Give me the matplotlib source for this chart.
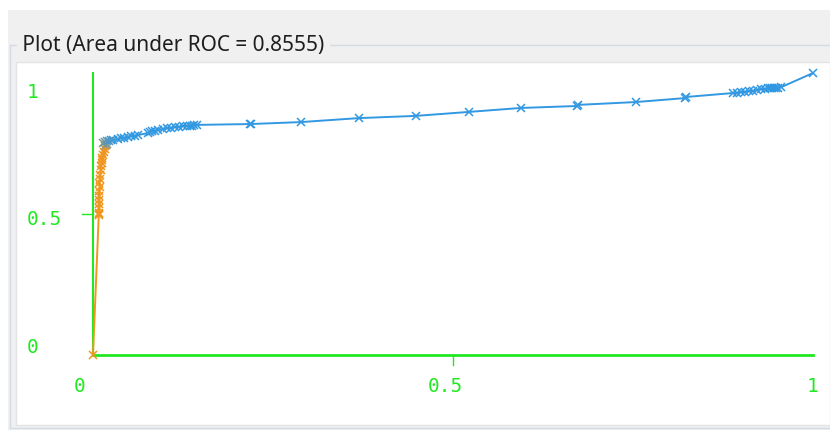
import matplotlib
matplotlib.use("Agg")
import matplotlib.pyplot as plt
from matplotlib.colors import LinearSegmentedColormap, to_hex
from matplotlib.patches import Rectangle
from matplotlib.lines import Line2D
import numpy as np

W, H = 830, 430

title = "Plot (Area under ROC = 0.8555)"

# ROC curve points (false positive rate, true positive rate)
fpr = [0.0, 0.008, 0.009, 0.008,
       0.008, 0.009, 0.008, 0.009, 0.009, 0.010, 0.009, 0.010, 0.010, 0.011, 0.011,
       0.012, 0.013, 0.013, 0.014, 0.015, 0.016, 0.017, 0.018, 0.019,
       0.0139, 0.0167, 0.0194, 0.022, 0.025, 0.028, 0.035, 0.039, 0.043, 0.049,
       0.053, 0.058, 0.0625, 0.076, 0.079, 0.082, 0.086, 0.090, 0.097, 0.103,
       0.108, 0.114, 0.119, 0.125, 0.131, 0.135, 0.1375, 0.140, 0.144,
       0.218, 0.219, 0.289, 0.369, 0.449, 0.522, 0.594, 0.672, 0.674, 0.754,
       0.822, 0.824, 0.889, 0.894, 0.900, 0.906, 0.911, 0.917, 0.922, 0.928,
       0.933, 0.9375, 0.940, 0.943, 0.946, 0.949, 0.951, 0.956, 1.0]
tpr = [0.0, 0.495, 0.500, 0.505,
       0.520, 0.535, 0.550, 0.565, 0.580, 0.595, 0.610, 0.625, 0.640, 0.655, 0.670,
       0.680, 0.690, 0.700, 0.710, 0.720, 0.730, 0.740, 0.745, 0.750,
       0.752, 0.755, 0.759, 0.759, 0.762, 0.762, 0.766, 0.770, 0.770, 0.773,
       0.777, 0.777, 0.780, 0.787, 0.791, 0.794, 0.794, 0.798, 0.801, 0.805,
       0.805, 0.809, 0.809, 0.812, 0.812, 0.812, 0.812, 0.816, 0.816,
       0.819, 0.819, 0.826, 0.840, 0.848, 0.862, 0.876, 0.883, 0.887, 0.897,
       0.911, 0.915, 0.929, 0.929, 0.933, 0.933, 0.936, 0.936, 0.940, 0.943,
       0.943, 0.947, 0.947, 0.947, 0.947, 0.947, 0.947, 0.950, 1.0]

xtick_labels = ["0", "0.5", "1"]
ytick_labels = ["0", "0.5", "1"]

GREEN = "#22e822"
cmap = LinearSegmentedColormap.from_list("thr", ["#f0961e", "#f0961e", "#3298e2"])


def fx(px):
    return px / W


def fy(py):
    return 1 - py / H


fig = plt.figure(figsize=(W / 100, H / 100), dpi=100)
fig.patch.set_facecolor("white")

# window chrome: grey panel, group box and white plotting area
fig.add_artist(Rectangle((fx(8), fy(430)), fx(822), 420 / H, transform=fig.transFigure,
                         facecolor="#f0f0f0", edgecolor="none", zorder=-5))
fig.add_artist(Line2D([fx(10), fx(829)], [fy(45), fy(45)], transform=fig.transFigure,
                      color="#d5dbe2", lw=1, zorder=-4))
fig.add_artist(Line2D([fx(10), fx(10)], [fy(45), fy(428)], transform=fig.transFigure,
                      color="#d5dbe2", lw=1, zorder=-4))
fig.add_artist(Line2D([fx(10), fx(830)], [fy(428), fy(428)], transform=fig.transFigure,
                      color="#d5dbe2", lw=1, zorder=-4))
fig.add_artist(Rectangle((fx(16), fy(425)), fx(814), 363 / H, transform=fig.transFigure,
                         facecolor="white", edgecolor="#e4e4e4", lw=1, zorder=-3))
fig.text(fx(17), fy(45), " " + title + " ", fontsize=15, family="Noto Sans",
         color="#1e1e1e", va="center", ha="left", zorder=-2,
         bbox=dict(facecolor="#f0f0f0", edgecolor="none", pad=0))

ax = fig.add_axes([fx(93), fy(355), (813 - 93) / W, (355 - 73) / H])
ax.set_zorder(5)
ax.set_xlim(0, 1)
ax.set_ylim(0, 1)
ax.axis("off")

# axes in green
ax.plot([0, 1], [0, 0], color=GREEN, lw=2, clip_on=False, zorder=1)
ax.plot([0, 0], [0, 1], color=GREEN, lw=1.5, clip_on=False, zorder=1)
ax.plot([0.5, 0.5], [0, -0.035], color=GREEN, lw=1, clip_on=False)
ax.plot([-0.015, 0], [0.5, 0.5], color=GREEN, lw=1, clip_on=False)

for lab, x in zip(xtick_labels, [-0.018, 0.49, 0.999]):
    ax.text(x, -0.11, lab, color=GREEN, family="DejaVu Sans Mono", fontsize=14,
            ha="center", va="center", clip_on=False)
for lab, y in zip(ytick_labels, [0.028, 0.482, 0.932]):
    ax.text(-0.092, y, lab, color=GREEN, family="DejaVu Sans Mono", fontsize=14,
            ha="left", va="center", clip_on=False)

# curve coloured by threshold position
t = np.clip((np.array(tpr) - 0.70) / 0.065, 0, 1)
cols = [to_hex(cmap(v)) for v in t]
for i in range(1, len(fpr)):
    ax.plot(fpr[i - 1:i + 1], tpr[i - 1:i + 1], color=cols[i], lw=1.4,
            clip_on=False, zorder=2)
for x, y, c in zip(fpr, tpr, cols):
    ax.plot(x, y, marker="x", ms=6, mew=1.1, color=c, clip_on=False, zorder=3)

fig.savefig("out.png", dpi=100, facecolor=fig.get_facecolor())
